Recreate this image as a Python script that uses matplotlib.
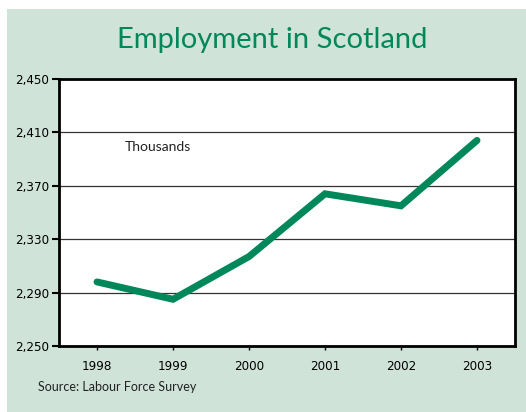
import matplotlib.pyplot as plt
from matplotlib.patches import Rectangle
import matplotlib.font_manager as fm

years = [1998, 1999, 2000, 2001, 2002, 2003]
employment = [2298, 2285, 2317, 2364, 2355, 2404]
y_ticks = [2250, 2290, 2330, 2370, 2410, 2450]
y_labels = ['2,250', '2,290', '2,330', '2,370', '2,410', '2,450']

green = '#00875a'
panel = '#cfe3d9'

plt.rcParams['font.family'] = ['Lato', 'DejaVu Sans']
# condensed face for the tick numbers, if there is one
tick_font = fm.FontProperties(family='DejaVu Sans', stretch='condensed', size=9.5)

fig = plt.figure(figsize=(5.26, 4.12), dpi=100, facecolor='white')
# green-grey panel behind the chart
fig.patches.append(Rectangle((7 / 526, 0), 1, 1 - 9 / 412, transform=fig.transFigure,
                             facecolor=panel, edgecolor='none', zorder=-10))

ax = fig.add_axes([59 / 526, 1 - 346 / 412, (515 - 59) / 526, (346 - 79) / 412])
ax.set_zorder(1)
ax.set_facecolor('white')
ax.plot(years, employment, color=green, lw=5, solid_capstyle='round',
        solid_joinstyle='miter', zorder=3)

ax.set_xlim(1997.5, 2003.5)
ax.set_ylim(2250, 2450)
ax.set_yticks(y_ticks)
ax.set_yticklabels(y_labels, fontproperties=tick_font)
ax.set_xticks(years)
ax.set_xticklabels([str(y) for y in years], fontproperties=tick_font)
ax.tick_params(axis='y', length=5, width=1.5, pad=2)
ax.tick_params(axis='x', length=3, width=1, pad=7)
ax.grid(axis='y', color='#333333', lw=0.9)
ax.set_axisbelow(True)
for s in ax.spines.values():
    s.set_linewidth(2)
    s.set_color('black')

ax.text(1998.37, 2399, 'Thousands', fontsize=10, color='#222222', va='center', ha='left')

fig.text(272 / 526, 1 - 40 / 412, 'Employment in Scotland', color=green,
         fontsize=21, ha='center', va='center')
fig.text(38 / 526, 1 - 387 / 412, 'Source: Labour Force Survey', fontsize=9,
         color='#222222', ha='left', va='center')

fig.savefig('out.png', dpi=100, facecolor=fig.get_facecolor())
